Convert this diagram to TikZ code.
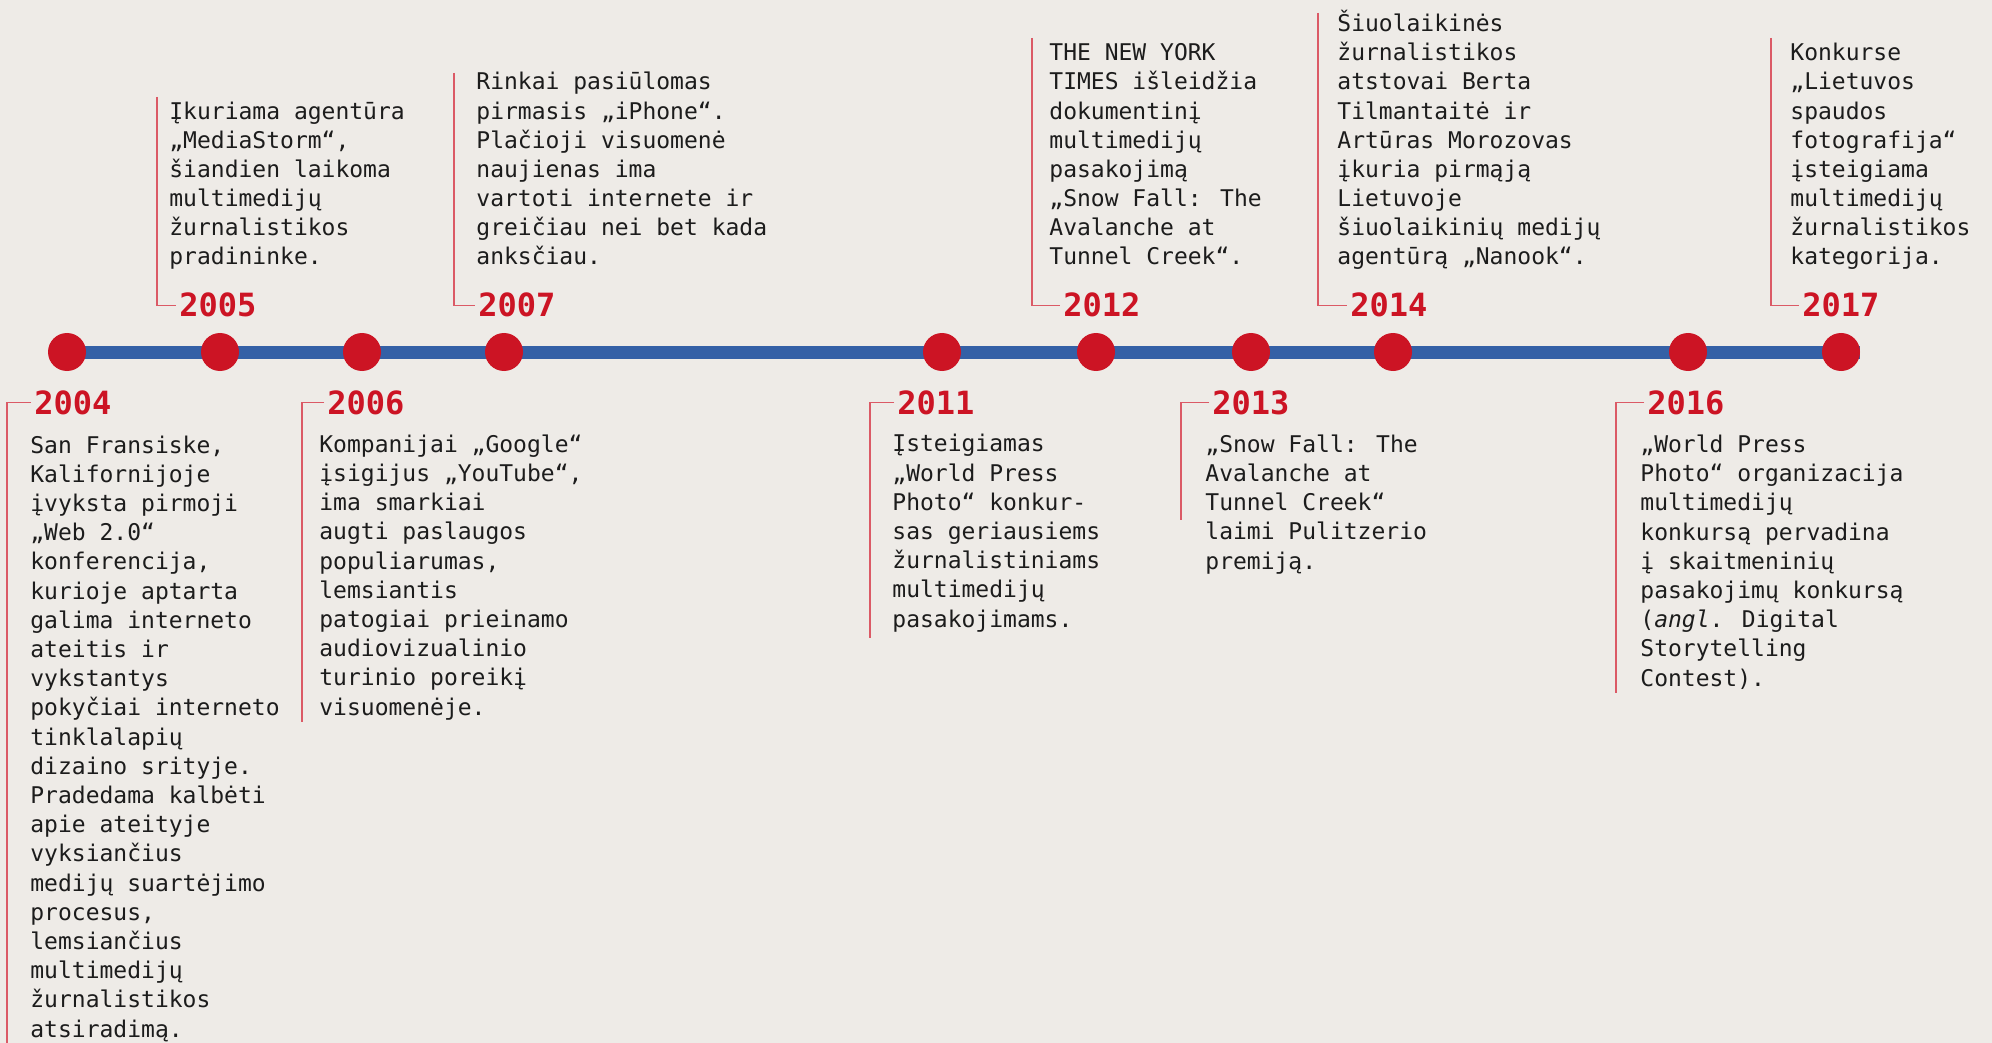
\documentclass[tikz,border=0pt]{standalone}
\usepackage{fontspec}
\newfontfamily\notefont{DejaVu Sans Mono}
\usetikzlibrary{backgrounds}
\definecolor{tlred}{RGB}{204,20,36}
\definecolor{tlblue}{RGB}{52,96,166}
\definecolor{paper}{RGB}{238,235,231}
\definecolor{ink}{RGB}{28,28,28}
\tikzstyle{axis} = [
    line width=6.5pt,
    draw=tlblue
]
\tikzstyle{event} = [
    circle,
    fill=tlred,
    inner sep=0pt,
    minimum size=19pt
]
\tikzstyle{yearlabel} = [
    anchor=base west,
    inner xsep=1.5pt,
    inner ysep=0pt,
    text=tlred,
    font=\notefont\bfseries\fontsize{16}{16}\selectfont
]
% multi-line notes sit on the baseline of their last line
\tikzstyle{notetext} = [
    anchor=base west,
    inner sep=0pt,
    align=left,
    text=ink,
    font=\notefont\fontsize{11.5}{14.6}\selectfont
]
\tikzstyle{bracket} = [
    line width=0.75pt,
    draw=tlred!70
]

\begin{document}
\begin{tikzpicture}[x=0.5pt, y=-0.5pt]
    \useasboundingbox (0,0) rectangle (1992,1043);

    % Events on the axis
    \node[event] (e2004) at (67,352) {};
    \node[event] (e2005) at (220,352) {};
    \node[event] (e2006) at (362,352) {};
    \node[event] (e2007) at (504,352) {};
    \node[event] (e2011) at (942,352) {};
    \node[event] (e2012) at (1096,352) {};
    \node[event] (e2013) at (1251,352) {};
    \node[event] (e2014) at (1393,352) {};
    \node[event] (e2016) at (1688,352) {};
    \node[event] (e2017) at (1841,352) {};

    \begin{scope}[on background layer]
        \fill[paper] (0,0) rectangle (1992,1043);
        \draw[axis] (e2004.center) -- (e2017.east);
    \end{scope}

    % Upper notes
    \node[yearlabel] (y2005) at (176,317) {2005};
    \coordinate (t2005) at (157,97);
    \draw[bracket] (t2005) |- (y2005.west);
    \node[notetext] (n2005) at (169,265) {Įkuriama agentūra\\„MediaStorm“,\\šiandien laikoma\\multimedijų\\žurnalistikos\\pradininke.};

    \node[yearlabel] (y2007) at (475,317) {2007};
    \coordinate (t2007) at (454,73);
    \draw[bracket] (t2007) |- (y2007.west);
    \node[notetext] (n2007) at (476,265) {Rinkai pasiūlomas\\pirmasis „iPhone“.\\Plačioji visuomenė\\naujienas ima\\vartoti internete ir\\greičiau nei bet kada\\anksčiau.};

    \node[yearlabel] (y2012) at (1060,317) {2012};
    \coordinate (t2012) at (1032,38);
    \draw[bracket] (t2012) |- (y2012.west);
    \node[notetext] (n2012) at (1049,265) {THE NEW YORK\\TIMES išleidžia\\dokumentinį\\multimedijų\\pasakojimą\\„Snow Fall: The\\Avalanche at\\Tunnel Creek“.};

    \node[yearlabel] (y2014) at (1347,317) {2014};
    \coordinate (t2014) at (1318,13);
    \draw[bracket] (t2014) |- (y2014.west);
    \node[notetext] (n2014) at (1337,265) {Šiuolaikinės\\žurnalistikos\\atstovai Berta\\Tilmantaitė ir\\Artūras Morozovas\\įkuria pirmąją\\Lietuvoje\\šiuolaikinių medijų\\agentūrą „Nanook“.};

    \node[yearlabel] (y2017) at (1799,317) {2017};
    \coordinate (t2017) at (1771,38);
    \draw[bracket] (t2017) |- (y2017.west);
    \node[notetext] (n2017) at (1790,265) {Konkurse\\„Lietuvos\\spaudos\\fotografija“\\įsteigiama\\multimedijų\\žurnalistikos\\kategorija.};

    % Lower notes
    \node[yearlabel] (y2004) at (31,414) {2004};
    \coordinate (b2004) at (7,1043);
    \draw[bracket] (y2004.west) -| (b2004);
    \node[notetext] (n2004) at (30,1037) {San Fransiske,\\Kalifornijoje\\įvyksta pirmoji\\„Web 2.0“\\konferencija,\\kurioje aptarta\\galima interneto\\ateitis ir\\vykstantys\\pokyčiai interneto\\tinklalapių\\dizaino srityje.\\Pradedama kalbėti\\apie ateityje\\vyksiančius\\medijų suartėjimo\\procesus,\\lemsiančius\\multimedijų\\žurnalistikos\\atsiradimą.};

    \node[yearlabel] (y2006) at (324,414) {2006};
    \coordinate (b2006) at (302,722);
    \draw[bracket] (y2006.west) -| (b2006);
    \node[notetext] (n2006) at (319,715) {Kompanijai „Google“\\įsigijus „YouTube“,\\ima smarkiai\\augti paslaugos\\populiarumas,\\lemsiantis\\patogiai prieinamo\\audiovizualinio\\turinio poreikį\\visuomenėje.};

    \node[yearlabel] (y2011) at (894,414) {2011};
    \coordinate (b2011) at (870,638);
    \draw[bracket] (y2011.west) -| (b2011);
    \node[notetext] (n2011) at (892,627) {Įsteigiamas\\„World Press\\Photo“ konkur-\\sas geriausiems\\žurnalistiniams\\multimedijų\\pasakojimams.};

    \node[yearlabel] (y2013) at (1209,414) {2013};
    \coordinate (b2013) at (1181,520);
    \draw[bracket] (y2013.west) -| (b2013);
    \node[notetext] (n2013) at (1205,569) {„Snow Fall: The\\Avalanche at\\Tunnel Creek“\\laimi Pulitzerio\\premiją.};

    \node[yearlabel] (y2016) at (1644,414) {2016};
    \coordinate (b2016) at (1616,693);
    \draw[bracket] (y2016.west) -| (b2016);
    \node[notetext] (n2016) at (1640,686) {„World Press\\Photo“ organizacija\\multimedijų\\konkursą pervadina\\į skaitmeninių\\pasakojimų konkursą\\(\textit{angl}. Digital\\Storytelling\\Contest).};
\end{tikzpicture}
\end{document}
